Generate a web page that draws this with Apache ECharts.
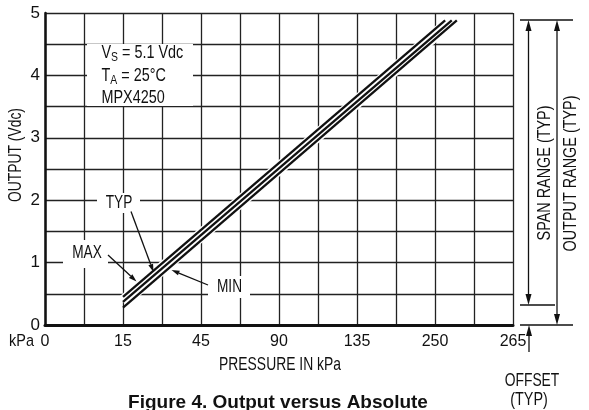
<!DOCTYPE html>
<html><head><meta charset="utf-8">
<script src="https://cdn.jsdelivr.net/npm/echarts@6/dist/echarts.min.js"></script>
<style>html,body{margin:0;padding:0;background:#fff}#c{width:589px;height:410px}</style>
</head><body><div id="c"></div>
<script>
// ---- data ----
const xTickLabels = ['0','','15','','45','','90','','135','','250','','265'];
const yTickLabels = ['0','','1','','2','','3','','4','','5'];
const maxX = [2, 10.26]; const maxY = [0.45, 4.88];
const typX = [2, 10.43]; const typY = [0.37, 4.88];
const minX = [2, 10.56]; const minY = [0.28, 4.88];

const FONT = "'Liberation Sans', Arial, sans-serif";
const INK = '#111';

function pairs(xs, ys){ return xs.map((x,i)=>[x, ys[i]]); }

function arrow(x1,y1,x2,y2,len,w){
  const dx=x2-x1, dy=y2-y1, d=Math.hypot(dx,dy), ux=dx/d, uy=dy/d;
  const bx=x2-ux*len, by=y2-uy*len, px=-uy*w/2, py=ux*w/2;
  return [
    {type:'line', shape:{x1:x1,y1:y1,x2:bx,y2:by}, style:{stroke:INK,lineWidth:1.3}, z:50},
    {type:'polygon', shape:{points:[[x2,y2],[bx+px,by+py],[bx-px,by-py]]}, style:{fill:INK}, z:50}
  ];
}
function hline(x1,x2,y,w){ return {type:'line', shape:{x1:x1,y1:y,x2:x2,y2:y}, style:{stroke:INK,lineWidth:w||1.3}, z:50}; }
function whiteRect(x,y,w,h){ return {type:'rect', shape:{x:x,y:y,width:w,height:h}, style:{fill:'#fff'}, z:40}; }
function txt(s,x,y,size,sx,align,rot){
  return {type:'text', x:x, y:y, z:60, scaleX:sx||1, rotation:rot||0,
    style:{text:s, fill:INK, font:size+'px '+FONT, textAlign:align||'center', textVerticalAlign:'middle'}};
}
function subTxt(main,sub,rest,x,y){
  return {type:'text', x:x, y:y, z:60, scaleX:0.8, style:{
    text:'{a|'+main+'}{s|'+sub+'}{a|'+rest+'}', textVerticalAlign:'middle',
    rich:{a:{font:'18px '+FONT, fill:INK, lineHeight:20}, s:{font:'13px '+FONT, fill:INK, padding:[8,0,0,0], lineHeight:20}}
  }};
}

const graphics = [
  whiteRect(87,44,106,62),
  whiteRect(97,193,43,20),
  whiteRect(63,240,45,28),
  whiteRect(208,276,42,22),
  subTxt('V','S',' = 5.1 Vdc',101.5,53),
  subTxt('T','A',' = 25°C',101.5,76),
  txt('MPX4250',101.5,98,18,0.8,'left'),
  txt('TYP',119,203,18,0.76),
  txt('MAX',87,253,18,0.76),
  txt('MIN',229.5,287,18,0.76),
  ...arrow(131,211.5,153.5,272,8,5),
  ...arrow(108,255,136.5,281.5,8,5),
  ...arrow(208,285,171.5,270,8,5),
  txt('kPa',21.5,341,17,0.85),
  txt('PRESSURE IN kPa',280,365,18.5,0.75),
  txt('OUTPUT (Vdc)',16.5,155,18,0.77,'center',Math.PI/2),
  {type:'text', x:278, y:403, z:60, style:{text:'Figure 4. Output versus Absolute', fill:INK, font:'bold 19px Arial, "Liberation Sans", sans-serif', textAlign:'center', textVerticalAlign:'middle'}},
  // right side dimension marks
  hline(520,573,20),
  hline(520,555,305),
  hline(520,573,325),
  ...arrow(528.5,160,528.5,20,11,6),
  ...arrow(528.5,160,528.5,305,11,6),
  ...arrow(557,160,557,20,11,6),
  ...arrow(557,160,557,325,11,6),
  ...arrow(529,352,529,325,11,6),
  txt('SPAN RANGE (TYP)',545,173,18,0.8,'center',Math.PI/2),
  txt('OUTPUT RANGE (TYP)',571,173.5,18,0.8,'center',Math.PI/2),
  txt('OFFSET',532,381.5,18,0.77),
  txt('(TYP)',529,400,18,0.8)
];

const chart = echarts.init(document.getElementById('c'), null, {renderer:'canvas'});
chart.setOption({
  animation:false,
  backgroundColor:'#fff',
  grid:{left:45, right:76, top:13, bottom:85, containLabel:false},
  xAxis:{type:'value', min:0, max:12, interval:1,
    axisLine:{show:true, onZero:false, lineStyle:{color:INK, width:3}},
    axisTick:{show:false},
    axisLabel:{margin:9, color:INK, fontFamily:FONT, fontSize:16, formatter:v=>xTickLabels[Math.round(v)]||''},
    splitLine:{show:true, lineStyle:{color:'#222', width:1.3}}
  },
  yAxis:{type:'value', min:0, max:5, interval:0.5,
    axisLine:{show:true, onZero:false, lineStyle:{color:INK, width:2.5}},
    axisTick:{show:false},
    axisLabel:{margin:5, color:INK, fontFamily:FONT, fontSize:17, formatter:v=>yTickLabels[Math.round(v*2)]||''},
    splitLine:{show:true, lineStyle:{color:'#222', width:1.3}}
  },
  series:[
    {type:'line', data:pairs(typX,typY), symbol:'none', silent:true, z:1, lineStyle:{color:'#fff', width:13}},
    {name:'MAX', type:'line', data:pairs(maxX,maxY), symbol:'none', z:5, lineStyle:{color:INK, width:2.3}},
    {name:'TYP', type:'line', data:pairs(typX,typY), symbol:'none', z:5, lineStyle:{color:INK, width:2.3}},
    {name:'MIN', type:'line', data:pairs(minX,minY), symbol:'none', z:5, lineStyle:{color:INK, width:2.3}}
  ],
  graphic:{elements:graphics}
});
</script></body></html>
